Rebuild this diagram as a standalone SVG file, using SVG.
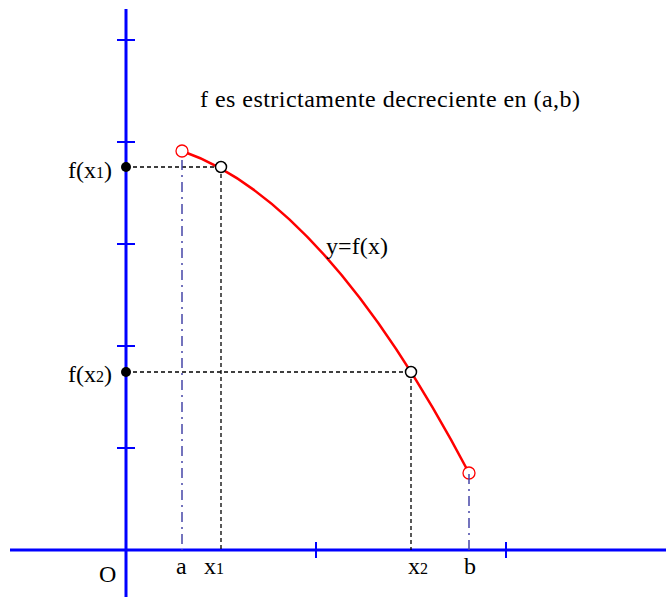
<svg xmlns="http://www.w3.org/2000/svg" width="666" height="597" viewBox="0 0 666 597">
<style>
.axis{stroke:#0000ff;stroke-width:3;fill:none}
.tick{stroke:#0000ff;stroke-width:2;fill:none}
.dash{stroke:#000;stroke-width:1.3;stroke-dasharray:4,3;fill:none}
.dashdot{stroke:#4646a8;stroke-width:1.5;stroke-dasharray:10,5,2,5;fill:none}
.curve{stroke:#ff0000;stroke-width:2.5;fill:none}
text{font-family:'Liberation Serif',Tinos,'DejaVu Serif',serif;font-size:24px;fill:#000}
.s{font-size:16px}
</style>
<g id="axes">
<line class="axis" x1="126" y1="9" x2="126" y2="597"/>
<line class="axis" x1="10" y1="550" x2="666" y2="550"/>
<line class="tick" x1="117" y1="40" x2="135" y2="40"/>
<line class="tick" x1="117" y1="142" x2="135" y2="142"/>
<line class="tick" x1="117" y1="244" x2="135" y2="244"/>
<line class="tick" x1="117" y1="346" x2="135" y2="346"/>
<line class="tick" x1="117" y1="448" x2="135" y2="448"/>
<line class="tick" x1="316" y1="542" x2="316" y2="558"/>
<line class="tick" x1="506" y1="542" x2="506" y2="558"/>
</g>
<g id="connectors">
<line class="dash" x1="126" y1="167" x2="221" y2="167"/>
<line class="dash" x1="221" y1="167" x2="221" y2="550"/>
<line class="dash" x1="126" y1="372" x2="411" y2="372"/>
<line class="dash" x1="411" y1="372" x2="411" y2="550"/>
<line class="dashdot" x1="182" y1="160" x2="182" y2="550"/>
</g>
<g id="curve">
<path class="curve" d="M182,151 Q325.6,200.7 469,473"/>
</g>
<g id="points">
<circle cx="182" cy="151" r="6" fill="#fff" stroke="#ff0000" stroke-width="1.3"/>
<circle cx="469" cy="473" r="6" fill="#fff" stroke="#ff0000" stroke-width="1.3"/>
<line class="dashdot" x1="469" y1="474" x2="469" y2="550"/>
<circle cx="221" cy="167" r="5.5" fill="#fff" stroke="#000" stroke-width="1.5"/>
<circle cx="411" cy="372" r="5.5" fill="#fff" stroke="#000" stroke-width="1.5"/>
<circle cx="126" cy="167" r="5" fill="#000"/>
<circle cx="126" cy="372" r="5" fill="#000"/>
</g>
<g id="labels">
<text x="112" y="178" text-anchor="end">f(x<tspan class="s">1</tspan>)</text>
<text x="112" y="382" text-anchor="end">f(x<tspan class="s">2</tspan>)</text>
<text x="200" y="107" textLength="380" lengthAdjust="spacing">f es estrictamente decreciente en (a,b)</text>
<text x="326" y="254" textLength="62">y=f(x)</text>
<text x="99" y="582">O</text>
<text x="176" y="574">a</text>
<text x="204" y="574">x<tspan class="s">1</tspan></text>
<text x="408" y="574">x<tspan class="s">2</tspan></text>
<text x="464" y="574">b</text>
</g>
</svg>
